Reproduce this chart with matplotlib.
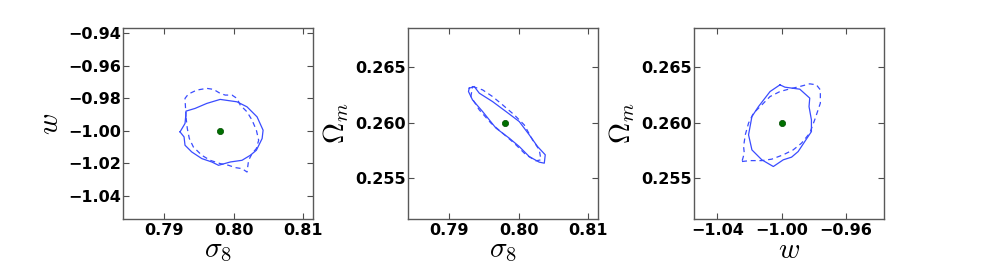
import matplotlib
matplotlib.use("Agg")
import matplotlib.pyplot as plt

# ---- data ----
fid_s8 = 0.798
fid_w = -1.00
fid_om = 0.260

# panel 1: sigma8 vs w
p1_solid_x = [0.79228, 0.79300, 0.79314, 0.79314, 0.79445, 0.79614, 0.79807, 0.80049, 0.80194, 0.80339,
              0.80426, 0.80412, 0.80329, 0.80242, 0.80122, 0.79952, 0.79783, 0.79687, 0.79542, 0.79397,
              0.79300, 0.79286, 0.79228]
p1_solid_y = [-1.0006, -0.99543, -0.98926, -0.98784, -0.98617, -0.98309, -0.98062, -0.98210, -0.98519, -0.99136,
              -0.99957, -1.00469, -1.01191, -1.01500, -1.01809, -1.01914, -1.02117, -1.01914, -1.01704, -1.01296,
              -1.00883, -1.00370, -1.0006]
p1_dash_x = [0.79314, 0.79300, 0.79348, 0.79470, 0.79614, 0.79710, 0.79807, 0.79880, 0.79977, 0.80049,
             0.80097, 0.80194, 0.80267, 0.80329, 0.80362, 0.80329, 0.80267, 0.80217, 0.80194, 0.80122,
             0.80025, 0.79928, 0.79807, 0.79662, 0.79542, 0.79420, 0.79362, 0.79333, 0.79314]
p1_dash_y = [-0.99136, -0.98000, -0.97735, -0.97488, -0.97383, -0.97444, -0.97691, -0.97796, -0.97796, -0.98000,
             -0.98414, -0.98827, -0.99340, -0.99957, -1.00574, -1.01086, -1.01395, -1.01809, -1.02531, -1.02321,
             -1.02259, -1.02117, -1.02012, -1.01809, -1.01500, -1.00988, -1.00469, -0.99852, -0.99136]

# panel 2: sigma8 vs Omega_m
p2_solid_x = [0.79289, 0.79361, 0.79434, 0.79625, 0.79818, 0.80010, 0.80154, 0.80274, 0.80385, 0.80371,
              0.80299, 0.80154, 0.80010, 0.79866, 0.79674, 0.79481, 0.79336, 0.79278, 0.79289]
p2_solid_y = [0.26308, 0.26323, 0.26263, 0.26188, 0.26099, 0.26009, 0.25890, 0.25785, 0.25711, 0.25636,
              0.25645, 0.25695, 0.25785, 0.25860, 0.25950, 0.26099, 0.26203, 0.26278, 0.26308]
p2_dash_x = [0.79336, 0.79481, 0.79625, 0.79769, 0.79938, 0.80082, 0.80202, 0.80299, 0.80323, 0.80251,
             0.80107, 0.79938, 0.79769, 0.79602, 0.79433, 0.79313, 0.79336]
p2_dash_y = [0.26323, 0.26293, 0.26233, 0.26159, 0.26069, 0.25979, 0.25845, 0.25755, 0.25666, 0.25657,
             0.25711, 0.25815, 0.25905, 0.25995, 0.26114, 0.26233, 0.26323]

# panel 3: w vs Omega_m
p3_solid_x = [-1.00105, -0.99797, -0.98874, -0.98258, -0.98302, -0.98154, -0.98154, -0.98566, -0.98978, -0.99385,
              -0.99902, -1.00517, -1.01231, -1.01846, -1.02055, -1.01846, -1.01440, -1.00720, -1.00105]
p3_solid_y = [0.26338, 0.26317, 0.26299, 0.26219, 0.26143, 0.26024, 0.25919, 0.25830, 0.25740, 0.25690,
              0.25666, 0.25606, 0.25666, 0.25755, 0.25890, 0.26054, 0.26143, 0.26278, 0.26338]
p3_dash_x = [-1.02462, -1.01951, -1.01231, -1.00615, -0.99902, -0.99286, -0.98769, -0.98258, -0.97951, -0.97809,
             -0.97600, -0.97600, -0.97846, -0.98258, -0.98874, -0.99489, -1.00105, -1.00720, -1.01335, -1.01748,
             -1.02055, -1.02258, -1.02363, -1.02320, -1.02462]
p3_dash_y = [0.25651, 0.25659, 0.25659, 0.25672, 0.25711, 0.25755, 0.25815, 0.25905, 0.26024, 0.26084,
             0.26174, 0.26293, 0.26338, 0.26347, 0.26323, 0.26302, 0.26278, 0.26233, 0.26143, 0.26084,
             0.25995, 0.25890, 0.25785, 0.25726, 0.25651]

s8_lim = (0.7841, 0.8115)
w_lim = (-1.0544, -0.9365)
om_lim = (0.25133, 0.2685)
s8_ticks = [0.79, 0.80, 0.81]
w_ticks_y = [-1.04, -1.02, -1.00, -0.98, -0.96, -0.94]
w_ticks_x = [-1.04, -1.00, -0.96]
om_ticks = [0.255, 0.260, 0.265]

plt.rcParams['mathtext.fontset'] = 'cm'

fig = plt.figure(figsize=(9.83, 2.74), dpi=100)
W, H = 983.0, 274.0
lefts = [123.3, 408.3, 694.0]
aw, ah = 190.0, 191.6
top = 27.7

panels = [
    (p1_solid_x, p1_solid_y, p1_dash_x, p1_dash_y, (fid_s8, fid_w), s8_lim, w_lim, s8_ticks, w_ticks_y,
     r'$\sigma_8$', r'$w$', '%.2f', '%.2f'),
    (p2_solid_x, p2_solid_y, p2_dash_x, p2_dash_y, (fid_s8, fid_om), s8_lim, om_lim, s8_ticks, om_ticks,
     r'$\sigma_8$', r'$\Omega_m$', '%.2f', '%.3f'),
    (p3_solid_x, p3_solid_y, p3_dash_x, p3_dash_y, (fid_w, fid_om), w_lim, om_lim, w_ticks_x, om_ticks,
     r'$w$', r'$\Omega_m$', '%.2f', '%.3f'),
]

blue = '#3a4cff'
for i, (sx, sy, dx, dy, fid, xl, yl, xt, yt, xlab, ylab, xf, yf) in enumerate(panels):
    ax = fig.add_axes([lefts[i] / W, 1 - (top + ah) / H, aw / W, ah / H])
    ax.plot(sx, sy, '-', color=blue, lw=0.9)
    ax.plot(dx, dy, '--', color=blue, lw=0.9, dashes=(4, 3))
    ax.plot([fid[0]], [fid[1]], 'o', color='#007000', ms=4.5, mec='#004d00', mew=0.5)
    ax.set_xlim(*xl)
    ax.set_ylim(*yl)
    ax.set_xticks(xt)
    ax.set_yticks(yt)
    ax.set_xticklabels([(xf % v).replace('-', '\u2212') for v in xt], fontweight='bold', fontsize=11.5)
    ax.set_yticklabels([(yf % v).replace('-', '\u2212') for v in yt], fontweight='bold', fontsize=11.5)
    ax.tick_params(direction='in', top=True, right=True, length=4, width=0.8, color='0.3')
    ax.tick_params(axis='x', pad=2.5)
    ax.tick_params(axis='y', pad=1.5)
    for sp in ax.spines.values():
        sp.set_color('0.35')
        sp.set_linewidth(1.0)
    ax.set_xlabel(xlab, fontsize=21, labelpad=-1)
    ax.set_ylabel(ylab, fontsize=21, labelpad=3)

fig.savefig('out.png', dpi=100)
